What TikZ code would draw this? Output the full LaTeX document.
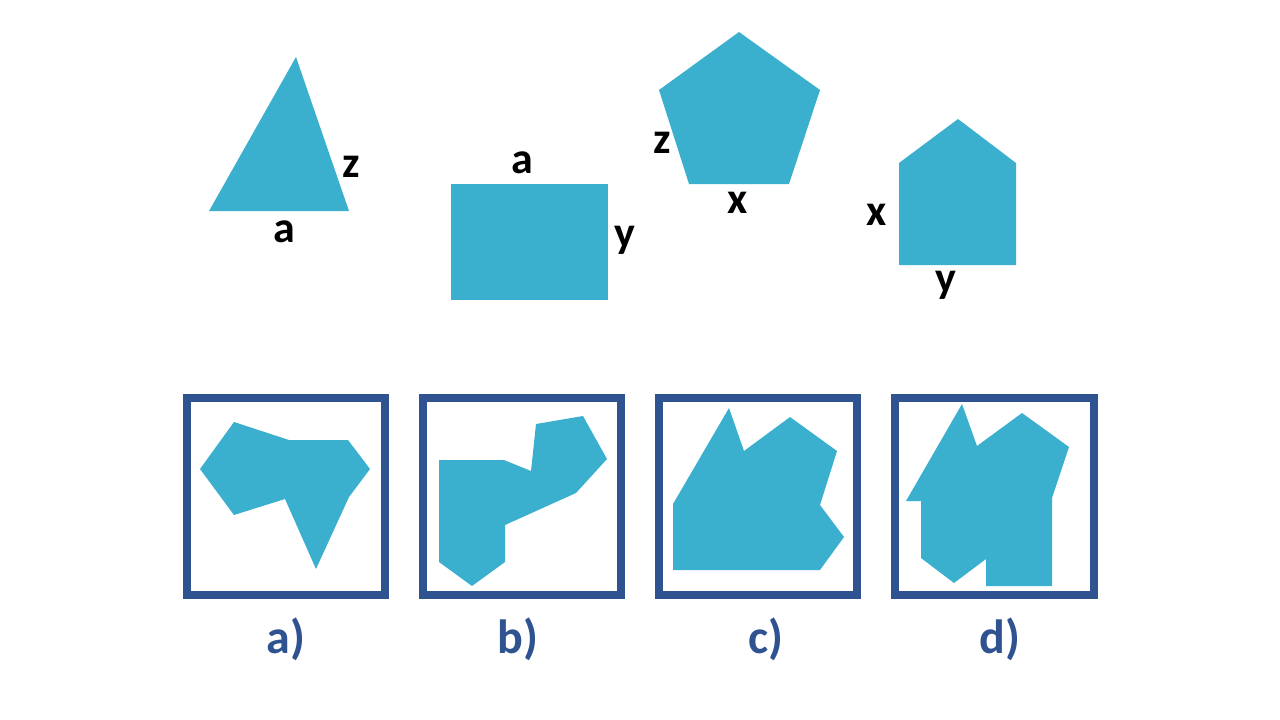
\documentclass[tikz,border=0pt]{standalone}
\usepackage{fontspec}
\setmainfont{Carlito}
\definecolor{fillc}{HTML}{3BB0CE}
\definecolor{framec}{HTML}{2F5290}
\tikzset{shp/.style={fill=fillc,draw=none},
frame/.style={draw=framec,line width=8pt},
lbl/.style={font=\fontsize{44}{44}\selectfont\bfseries,inner sep=0pt},
opt/.style={font=\fontsize{48}{48}\selectfont\bfseries,text=framec,inner sep=0pt}}
\begin{document}
\begin{tikzpicture}[x=1pt,y=-1pt]
\useasboundingbox (0,0) rectangle (1280,720);
% top shapes
\fill[shp] (209,211)--(296,57)--(349,211)--cycle;
\node[lbl] (t1) at (351,167) {z};
\node[lbl] (t2) at (284,232) {a};
\fill[shp] (451,184) rectangle (608,300);
\node[lbl] (r1) at (522,163) {a};
\node[lbl] (r2) at (625,240) {y};
\fill[shp] (739,32)--(820,90)--(789,184)--(689,184)--(659,90)--cycle;
\node[lbl] (p1) at (662,143) {z};
\node[lbl] (p2) at (738,203) {x};
\fill[shp] (899,163)--(958,119)--(1016,163)--(1016,265)--(899,265)--cycle;
\node[lbl] (h1) at (877,215) {x};
\node[lbl] (h2) at (946,285) {y};
% frames
\draw[frame] (187,398) rectangle (385,595);
\draw[frame] (423,398) rectangle (621,595);
\draw[frame] (659,398) rectangle (857,595);
\draw[frame] (895,398) rectangle (1094,595);
% options
\fill[shp] (200,469)--(234,422)--(289,440)--(348,440)--(370,469)--(349,497)--(316,569)--(285,499)--(234,515)--cycle;
\fill[shp] (439,460)--(504,460)--(531,471)--(536,424)--(583,416)--(607,459)--(576,493)--(505,525)--(505,562)--(472,586)--(439,562)--cycle;
\fill[shp] (673,504)--(729,408)--(744,451)--(790,417)--(837,451)--(820,505)--(844,537)--(820,570)--(673,570)--cycle;
\fill[shp] (906,501)--(962,404)--(977,446)--(1022,413)--(1069,447)--(1052,498)--(1052,586)--(986,586)--(986,559)--(954,583)--(921,558)--(921,501)--cycle;
\node[opt] (oa) at (286,639) {a)};
\node[opt] (ob) at (518,639) {b)};
\node[opt] (oc) at (766,639) {c)};
\node[opt] (od) at (1000,639) {d)};
\end{tikzpicture}
\end{document}
